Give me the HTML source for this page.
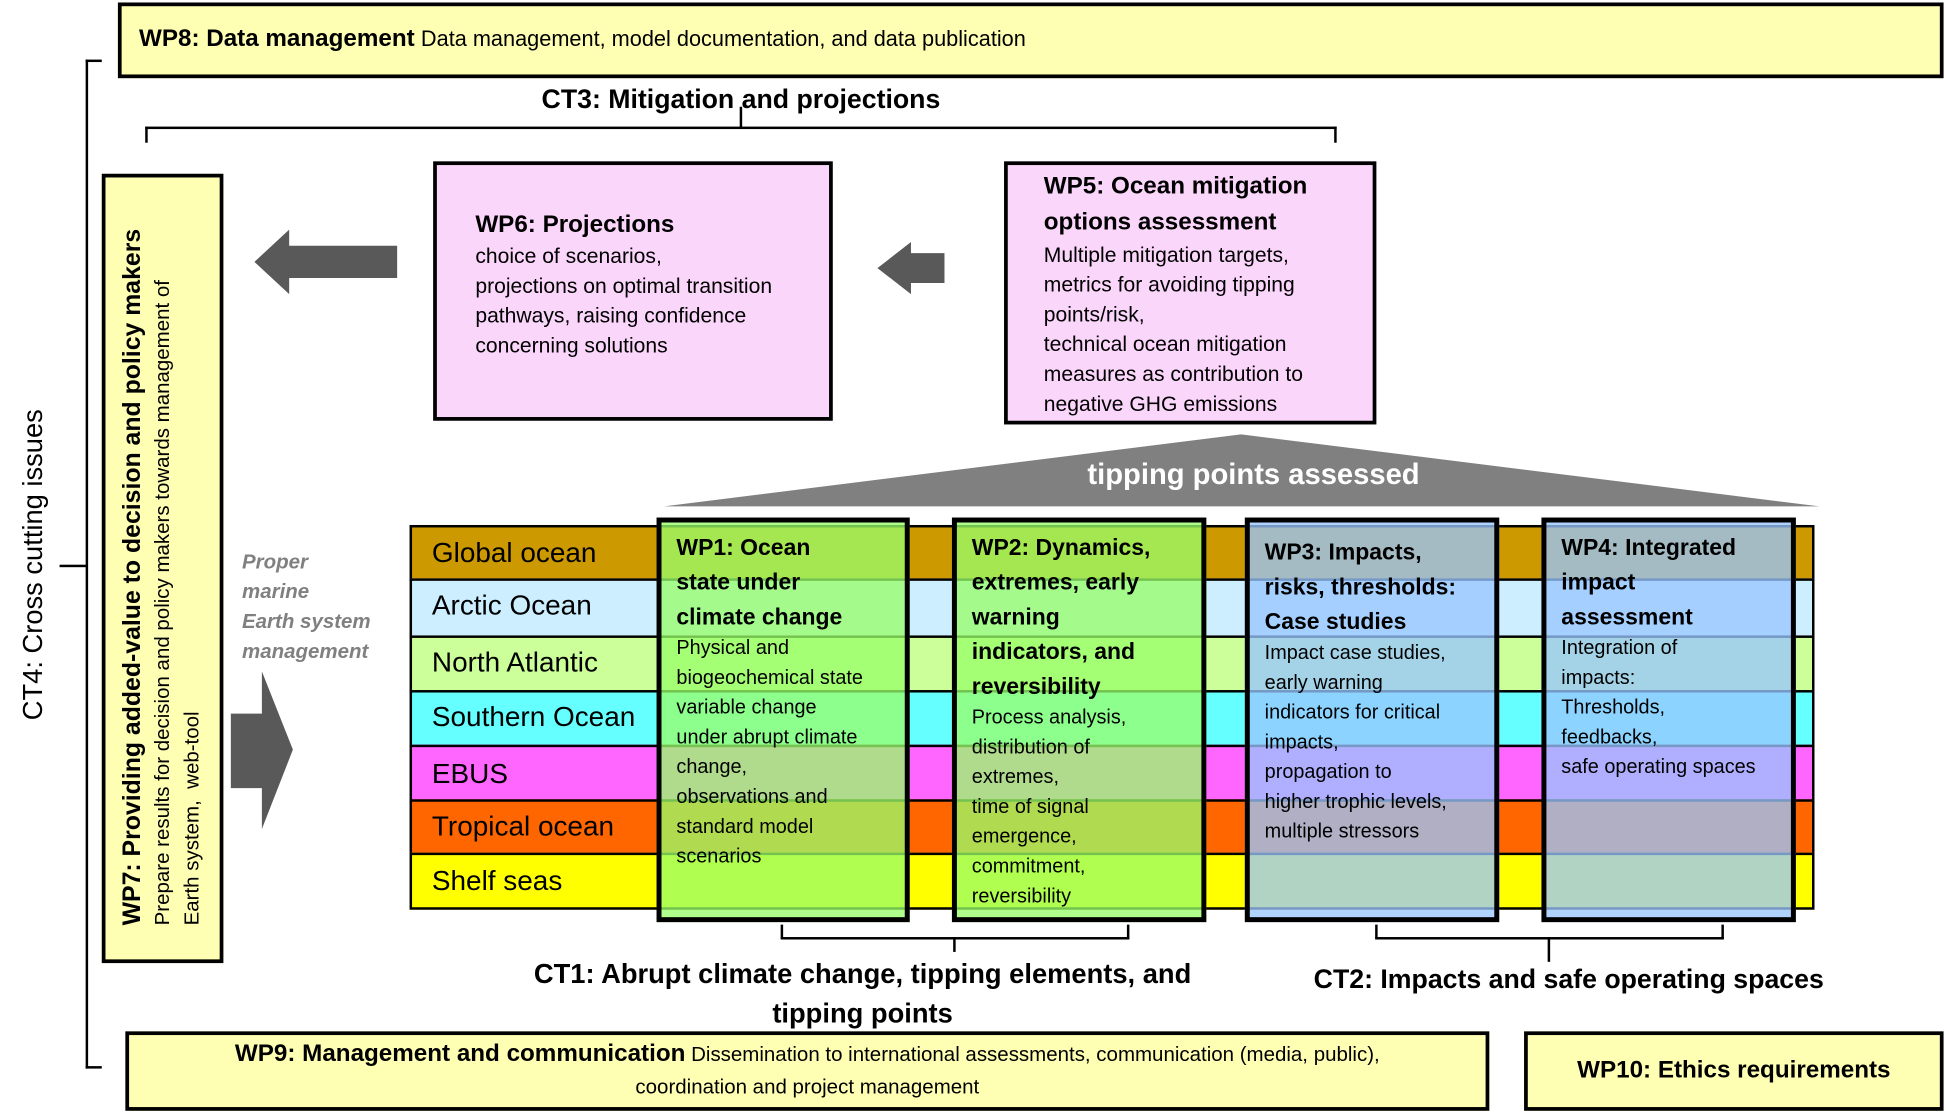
<!DOCTYPE html>
<html><head><meta charset="utf-8"><style>
html,body{margin:0;padding:0;background:#fff;overflow:hidden;}
body{width:1946px;height:1117px;}
#c{position:absolute;left:0;top:0;width:1568px;height:900px;transform:scale(1.2411);transform-origin:0 0;font-family:"Liberation Sans",sans-serif;color:#000;}
.a{position:absolute;}
.box{position:absolute;box-sizing:border-box;border:3px solid #000;}
.y{background:#ffffb4;}
.p{background:#fbd6fb;}
.band{position:absolute;left:330px;width:1132px;box-sizing:border-box;border:2px solid #000;border-bottom:none;}
.bl{position:absolute;left:348px;font-size:22.5px;white-space:nowrap;}
.col{position:absolute;top:417px;height:326px;box-sizing:border-box;border:4px solid #000;padding:6px 0 0 12px;white-space:nowrap;}
.g{background:rgba(152,255,105,0.765);}
.b{background:rgba(152,198,255,0.77);}
.col .t{font-weight:bold;font-size:18.5px;line-height:28px;}
.col .d{font-size:16px;line-height:24px;}
.ln{position:absolute;background:#000;}
</style></head><body><div id="c">

<div class="box y" style="left:95px;top:2px;width:1471px;height:61px;"></div>
<div class="a" style="left:112px;top:20px;font-size:18px;white-space:nowrap;"><b style="font-size:19.5px">WP8: Data management</b> <span style="font-size:17.5px">Data management, model documentation, and data publication</span></div>

<div class="ln" style="left:69px;top:48px;width:2px;height:813px;"></div>
<div class="ln" style="left:69px;top:48px;width:13px;height:2px;"></div>
<div class="ln" style="left:69px;top:859px;width:13px;height:2px;"></div>
<div class="ln" style="left:48px;top:455px;width:22px;height:2px;"></div>
<div class="a" style="left:27px;top:455px;transform:translate(-50%,-50%) rotate(-90deg);font-size:22px;white-space:nowrap;">CT4: Cross cutting issues</div>

<div class="a" style="left:597px;top:68px;transform:translateX(-50%);font-weight:bold;font-size:21.5px;white-space:nowrap;">CT3: Mitigation and projections</div>
<div class="ln" style="left:117px;top:102px;width:960px;height:2px;"></div>
<div class="ln" style="left:117px;top:102px;width:2px;height:13px;"></div>
<div class="ln" style="left:1075px;top:102px;width:2px;height:13px;"></div>
<div class="ln" style="left:596px;top:86px;width:2px;height:17px;"></div>

<div class="box y" style="left:82px;top:140px;width:98px;height:636px;"></div>
<div class="a" style="left:131px;top:465px;transform:translate(-50%,-50%) rotate(-90deg);white-space:nowrap;line-height:24px;">
<div style="font-weight:bold;font-size:20px;">WP7: Providing added-value to decision and policy makers</div>
<div style="font-size:16.5px;">Prepare results for decision and policy makers towards management of</div>
<div style="font-size:16.5px;">Earth system,&nbsp; web-tool</div>
</div>

<svg class="a" style="left:0;top:0" width="1568" height="900">
<polygon points="205,211 233,185 233,198 320,198 320,224 233,224 233,237" fill="#595959"/>
<polygon points="707,216 734,195 734,204 761,204 761,228 734,228 734,237" fill="#595959"/>
<polygon points="186,575 211,575 211,541 236,604 211,668 211,635 186,635" fill="#595959"/>
<polygon points="535,408 1000,350 1466,408" fill="#808080"/>
</svg>
<div class="a" style="left:1010px;top:369px;transform:translateX(-50%);color:#fff;font-weight:bold;font-size:23.5px;white-space:nowrap;">tipping points assessed</div>

<div class="a" style="left:195px;top:441px;color:#808080;font-style:italic;font-weight:bold;font-size:16.5px;line-height:24px;white-space:nowrap;">Proper<br>marine<br>Earth system<br>management</div>

<div class="box p" style="left:349px;top:130px;width:322px;height:209px;"></div>
<div class="a" style="left:383px;top:167px;white-space:nowrap;">
<div style="font-weight:bold;font-size:19.5px;line-height:28px;">WP6: Projections</div>
<div style="font-size:17px;line-height:24px;">choice of scenarios,<br>projections on optimal transition<br>pathways, raising confidence<br>concerning solutions</div></div>

<div class="box p" style="left:809px;top:130px;width:300px;height:212px;"></div>
<div class="a" style="left:841px;top:136px;white-space:nowrap;">
<div style="font-weight:bold;font-size:19.5px;line-height:29px;">WP5: Ocean mitigation<br>options assessment</div>
<div style="font-size:17px;line-height:24px;">Multiple mitigation targets,<br>metrics for avoiding tipping<br>points/risk,<br>technical ocean mitigation<br>measures as contribution to<br>negative GHG emissions</div></div>

<div class="band" style="top:423px;height:44px;background:#cc9900;"></div>
<div class="band" style="top:466px;height:47px;background:#cceeff;"></div>
<div class="band" style="top:512px;height:45px;background:#ccff99;"></div>
<div class="band" style="top:556px;height:45px;background:#66ffff;"></div>
<div class="band" style="top:600px;height:45px;background:#ff66ff;"></div>
<div class="band" style="top:644px;height:44px;background:#ff6600;"></div>
<div class="band" style="top:687px;height:46px;background:#ffff00;border-bottom:2px solid #000;"></div>
<div class="bl" style="top:433px;">Global ocean</div>
<div class="bl" style="top:475px;">Arctic Ocean</div>
<div class="bl" style="top:521px;">North Atlantic</div>
<div class="bl" style="top:565px;">Southern Ocean</div>
<div class="bl" style="top:611px;">EBUS</div>
<div class="bl" style="top:653px;">Tropical ocean</div>
<div class="bl" style="top:697px;">Shelf seas</div>

<div class="col g" style="left:529px;width:204px;">
<div class="t">WP1: Ocean<br>state under<br>climate change</div>
<div class="d">Physical and<br>biogeochemical state<br>variable change<br>under abrupt climate<br>change,<br>observations and<br>standard model<br>scenarios</div></div>
<div class="col g" style="left:767px;width:205px;">
<div class="t">WP2: Dynamics,<br>extremes, early<br>warning<br>indicators, and<br>reversibility</div>
<div class="d">Process analysis,<br>distribution of<br>extremes,<br>time of signal<br>emergence,<br>commitment,<br>reversibility</div></div>
<div class="col b" style="left:1003px;width:205px;padding-top:10px;">
<div class="t">WP3: Impacts,<br>risks, thresholds:<br>Case studies</div>
<div class="d">Impact case studies,<br>early warning<br>indicators for critical<br>impacts,<br>propagation to<br>higher trophic levels,<br>multiple stressors</div></div>
<div class="col b" style="left:1242px;width:205px;padding-top:6px;">
<div class="t">WP4: Integrated<br>impact<br>assessment</div>
<div class="d">Integration of<br>impacts:<br>Thresholds,<br>feedbacks,<br>safe operating spaces</div></div>

<div class="ln" style="left:629px;top:755px;width:281px;height:2px;"></div>
<div class="ln" style="left:629px;top:745px;width:2px;height:11px;"></div>
<div class="ln" style="left:908px;top:745px;width:2px;height:11px;"></div>
<div class="ln" style="left:768px;top:755px;width:2px;height:12px;"></div>
<div class="ln" style="left:1108px;top:755px;width:281px;height:2px;"></div>
<div class="ln" style="left:1108px;top:745px;width:2px;height:11px;"></div>
<div class="ln" style="left:1387px;top:745px;width:2px;height:11px;"></div>
<div class="ln" style="left:1247px;top:755px;width:2px;height:20px;"></div>
<div class="a" style="left:695px;top:769px;transform:translateX(-50%);text-align:center;font-weight:bold;font-size:22px;line-height:32px;white-space:nowrap;">CT1: Abrupt climate change, tipping elements, and<br>tipping points</div>
<div class="a" style="left:1264px;top:777px;transform:translateX(-50%);font-weight:bold;font-size:21.5px;white-space:nowrap;">CT2: Impacts and safe operating spaces</div>

<div class="box y" style="left:101px;top:831px;width:1099px;height:64px;"></div>
<div class="a" style="left:101px;top:836px;width:1099px;text-align:center;font-size:16.5px;line-height:26px;white-space:nowrap;"><b style="font-size:19.5px">WP9: Management and communication</b> Dissemination to international assessments, communication (media, public),<br>coordination and project management</div>
<div class="box y" style="left:1228px;top:831px;width:338px;height:64px;"></div>
<div class="a" style="left:1228px;top:851px;width:338px;text-align:center;font-weight:bold;font-size:19.5px;white-space:nowrap;">WP10: Ethics requirements</div>

</div></body></html>
